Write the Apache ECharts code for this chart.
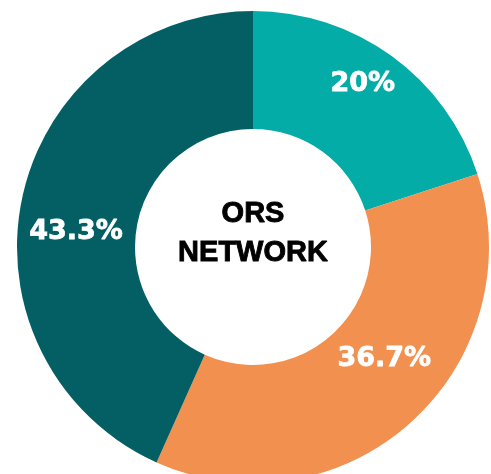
<!DOCTYPE html>
<html>
<head>
<meta charset="utf-8">
<script src="https://cdn.jsdelivr.net/npm/echarts@6/dist/echarts.min.js"></script>
<style>html,body{margin:0;padding:0;background:#fff;}#c{width:491px;height:474px;}</style>
</head>
<body>
<div id="c"></div>
<script>
const categories = ['A', 'B', 'C'];
const values = [20, 36.7, 43.3];
const labels = ['20%', '36.7%', '43.3%'];
const colors = ['#04ACA7', '#F1904F', '#035F64'];
const labelOffsets = [[4, -17], [11, -22], [-1, 23]];
const centerTitle = 'ORS\nNETWORK';

const chart = echarts.init(document.getElementById('c'), null, {renderer: 'canvas'});
chart.setOption({
  animation: false,
  graphic: [{
    type: 'text',
    x: 253, y: 233,
    style: {
      text: centerTitle,
      fill: '#000',
      stroke: '#000',
      lineWidth: 0.9,
      font: 'bold 29px "Liberation Sans", Arial, sans-serif',
      lineHeight: 39,
      align: 'center',
      verticalAlign: 'middle'
    }
  }],
  series: [{
    type: 'pie',
    center: [253, 247],
    radius: [118, 236],
    startAngle: 90,
    clockwise: true,
    avoidLabelOverlap: false,
    label: {
      show: true,
      position: 'inside',
      color: '#fff',
      fontFamily: '"DejaVu Sans", sans-serif',
      fontWeight: 'bold',
      fontSize: 27,
      textBorderColor: '#fff',
      textBorderWidth: 0.8
    },
    labelLine: {show: false},
    emphasis: {disabled: true},
    data: categories.map((c, i) => ({
      name: c,
      value: values[i],
      itemStyle: {color: colors[i]},
      label: {formatter: labels[i], offset: labelOffsets[i]}
    }))
  }]
});
</script>
</body>
</html>
